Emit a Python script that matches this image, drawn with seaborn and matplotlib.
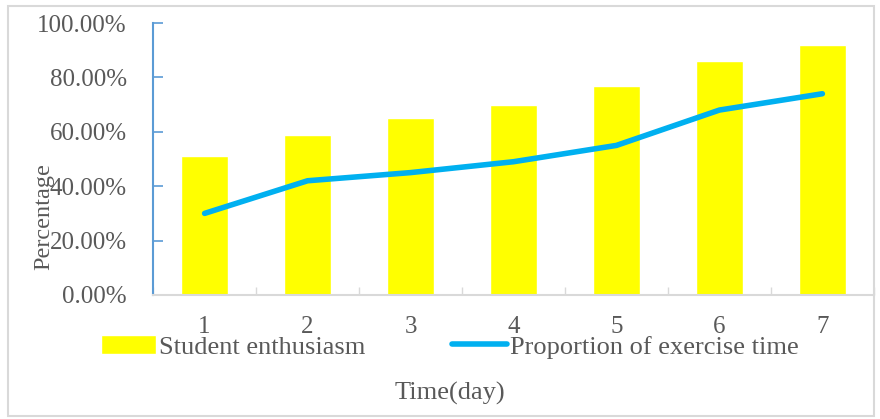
import numpy as np
import pandas as pd
import matplotlib
matplotlib.use("Agg")
import matplotlib.pyplot as plt
import seaborn as sns
from matplotlib.patches import Rectangle
from matplotlib.ticker import PercentFormatter, FixedLocator

# 데이터
days = ["1", "2", "3", "4", "5", "6", "7"]
enthusiasm = [51, 59, 65, 70, 77, 86, 92]
exercise = [30, 42, 45, 49, 55, 68, 74]

df = pd.DataFrame({"day": days, "enthusiasm": enthusiasm, "exercise": exercise})

sns.set_theme(style="white")
plt.rcParams["font.family"] = ["Liberation Serif", "DejaVu Serif"]

fig = plt.figure(figsize=(8.8, 4.19), dpi=100)
ax = fig.add_axes([0.174, 0.296, 0.819, 0.649])

sns.barplot(data=df, x="day", y="enthusiasm", color="#FFFF00", saturation=1,
            width=0.45, ax=ax, label="Student enthusiasm")
sns.pointplot(data=df, x="day", y="exercise", color="#00B0F0", markers="",
              linewidth=4, ax=ax, label="Proportion of exercise time")
for ln in ax.lines:
    ln.set_solid_capstyle("round")

ax.set_ylim(0, 100)
ax.set_xlim(-0.5, 6.5)
ax.yaxis.set_major_formatter(PercentFormatter(decimals=2))
ax.set_yticks([0, 20, 40, 60, 80, 100])

gray = "#595959"
ax.tick_params(axis="y", direction="in", length=7, color="#5B9BD5", width=1.2,
               labelsize=18, labelcolor=gray, pad=19, left=True)
ax.tick_params(axis="x", length=0, labelsize=18, labelcolor=gray, pad=15)
ax.xaxis.set_minor_locator(FixedLocator(np.arange(-0.5, 7, 1)))
ax.tick_params(axis="x", which="minor", direction="in", length=6, color="#D9D9D9", bottom=True)

for s in ["top", "right"]:
    ax.spines[s].set_visible(False)
ax.spines["left"].set_color("#5B9BD5")
ax.spines["left"].set_linewidth(1.5)
ax.spines["bottom"].set_color("#D9D9D9")
ax.spines["bottom"].set_linewidth(1.5)

ax.set_ylabel("Percentage", fontsize=17.5, color=gray)
ax.yaxis.set_label_coords(-0.137, 0.29)
ax.set_xlabel("Time(day)", fontsize=19, color=gray)
ax.xaxis.set_label_coords(0.412, -0.32)

h, l = ax.get_legend_handles_labels()
if ax.get_legend() is not None:
    ax.get_legend().remove()
order = [l.index("Student enthusiasm"), l.index("Proportion of exercise time")]
fig.legend([h[i] for i in order], [l[i] for i in order], loc="center",
           bbox_to_anchor=(0.511, 0.172), ncol=2, frameon=False,
           fontsize=19, handlelength=2.1, handletextpad=0.1, columnspacing=3.3,
           labelcolor=gray)

fig.patches.append(Rectangle((8 / 880, 1 - 416 / 419), 866 / 880, 410 / 419,
                             transform=fig.transFigure, fill=False,
                             edgecolor="#D9D9D9", linewidth=1.5))

fig.savefig("out.png", dpi=100)
